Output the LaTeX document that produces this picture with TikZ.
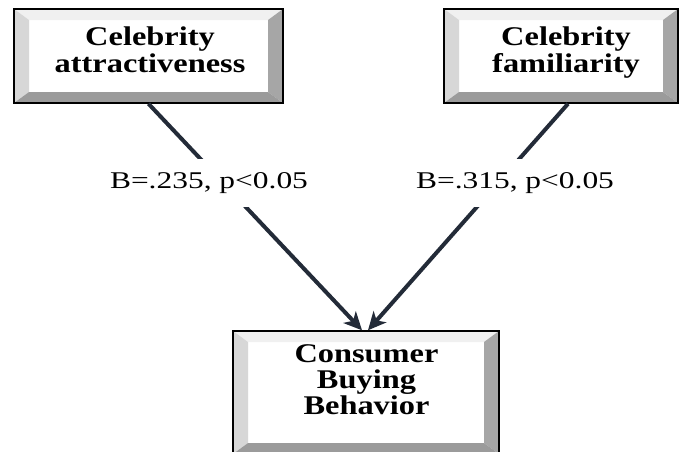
\documentclass[tikz,border=0pt]{standalone}
\usepackage{fontspec}
\setmainfont{Liberation Serif}
\usetikzlibrary{arrows.meta,calc}
\definecolor{linecol}{RGB}{35,43,56}
\definecolor{bevtop}{RGB}{240,240,240}
\definecolor{bevleft}{RGB}{215,215,215}
\definecolor{bevright}{RGB}{166,166,166}
\definecolor{bevbot}{RGB}{155,155,155}
\newcommand{\wideA}[1]{\scalebox{1.2}[1]{#1}}
\newcommand{\wideB}[1]{\scalebox{1.31}[1]{#1}}
\tikzset{
  bevelbox/.style={draw=black, line width=1.5pt, fill=white, inner sep=0pt,
    path picture={
      \def\bx{15pt}\def\by{11pt}
      \fill[bevtop] (path picture bounding box.north west) -- (path picture bounding box.north east)
        -- ($(path picture bounding box.north east)+(-\bx,-\by)$) -- ($(path picture bounding box.north west)+(\bx,-\by)$) -- cycle;
      \fill[bevleft] (path picture bounding box.north west) -- ($(path picture bounding box.north west)+(\bx,-\by)$)
        -- ($(path picture bounding box.south west)+(\bx,\by)$) -- (path picture bounding box.south west) -- cycle;
      \fill[bevright] (path picture bounding box.north east) -- (path picture bounding box.south east)
        -- ($(path picture bounding box.south east)+(-\bx,\by)$) -- ($(path picture bounding box.north east)+(-\bx,-\by)$) -- cycle;
      \fill[bevbot] (path picture bounding box.south west) -- (path picture bounding box.south east)
        -- ($(path picture bounding box.south east)+(-\bx,\by)$) -- ($(path picture bounding box.south west)+(\bx,\by)$) -- cycle;
    }},
  boxtext/.style={inner sep=0pt, align=center, font=\bfseries\fontsize{27}{27}\selectfont},
  boxtextB/.style={inner sep=0pt, align=center, font=\bfseries\fontsize{27}{26}\selectfont},
  conn/.style={draw=linecol, line width=4pt, -{Stealth[length=18pt,width=17pt,inset=5pt]}},
  coef/.style={fill=white, inner xsep=4pt, inner ysep=13.5pt, text height=16pt, text depth=5pt,
    font=\fontsize{24}{27}\selectfont, anchor=base},
}
\begin{document}
\begin{tikzpicture}[x=1pt,y=-1pt]
\useasboundingbox (0,0) rectangle (679,451);
% boxes
\node[bevelbox, minimum width=269pt, minimum height=94pt] (a) at (148.5,56) {};
\node[bevelbox, minimum width=234pt, minimum height=94pt] (b) at (561,56) {};
\node[bevelbox, minimum width=266pt, minimum height=123pt] (c) at (366,392.5) {};
% box texts
\node[boxtext] (at) at (150,49.5) {\wideA{Celebrity}\\\wideA{attractiveness}};
\node[boxtext] (bt) at (566,52.2) {\wideA{Celebrity}\\\wideA{familiarity}};
\node[boxtextB] (ct) at (366.5,380) {\wideA{Consumer}\\\wideA{Buying}\\\wideA{Behavior}};
% connectors
\draw[conn] (a.south) -- ([xshift=-4pt]c.north);
\draw[conn] ([xshift=7pt]b.south) -- ([xshift=2pt]c.north);
% coefficient labels
\node[coef] (l1) at (209,188) {\wideB{B=.235, p<0.05}};
\node[coef] (l2) at (515,188) {\wideB{B=.315, p<0.05}};
\end{tikzpicture}
\end{document}
